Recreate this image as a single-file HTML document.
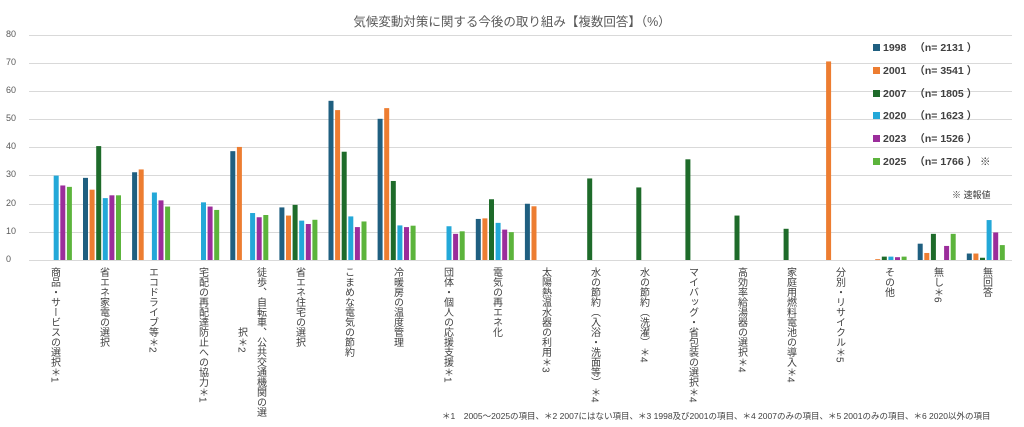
<!DOCTYPE html>
<html><head><meta charset="utf-8"><style>
body{margin:0;width:1024px;height:427px;background:#fff;overflow:hidden;position:relative;font-family:"Liberation Sans","Noto Sans CJK JP",sans-serif;color:#595959}
.t{position:absolute;white-space:nowrap}
.v{position:absolute;top:267px;writing-mode:vertical-rl;font-size:10px;line-height:11px;white-space:nowrap;color:#404040;transform:translateX(-50%)}
.y{position:absolute;left:6px;width:18px;text-align:left;font-size:9px;color:#595959}
.lg{position:absolute;left:873px;font-size:10.5px;font-weight:bold;color:#404040}
.lg i{display:inline-block;width:7px;height:7px;margin-right:3px}
.lg span{font-weight:bold;margin-left:8px}
</style></head><body>
<div class="t" style="left:0;width:1024px;text-align:center;top:11px;font-size:12.5px;color:#595959">気候変動対策に関する今後の取り組み【複数回答】（%）</div>
<svg width="1024" height="427" style="position:absolute;left:0;top:0">
<g stroke="#d9d9d9" stroke-width="1">
<line x1="29" x2="1012" y1="35.5" y2="35.5"/><line x1="29" x2="1012" y1="63.5" y2="63.5"/><line x1="29" x2="1012" y1="91.5" y2="91.5"/><line x1="29" x2="1012" y1="119.5" y2="119.5"/><line x1="29" x2="1012" y1="147.5" y2="147.5"/><line x1="29" x2="1012" y1="175.5" y2="175.5"/><line x1="29" x2="1012" y1="204.5" y2="204.5"/><line x1="29" x2="1012" y1="232.5" y2="232.5"/><line x1="29" x2="1012" y1="260.5" y2="260.5"/>
</g>
<g transform="translate(33.9,260) scale(1,-2.8125)"><rect x="19.8" width="5" height="30" fill="#23a8d8"/><rect x="26.4" width="5" height="26.5" fill="#9b2d9b"/><rect x="33" width="5" height="26" fill="#5cb43c"/></g>
<g transform="translate(83,260) scale(1,-2.8125)"><rect x="0" width="5" height="29.2" fill="#1f5f80"/><rect x="6.6" width="5" height="25" fill="#ed7d31"/><rect x="13.2" width="5" height="40.5" fill="#1e6b2a"/><rect x="19.8" width="5" height="22" fill="#23a8d8"/><rect x="26.4" width="5" height="23" fill="#9b2d9b"/><rect x="33" width="5" height="23" fill="#5cb43c"/></g>
<g transform="translate(132.1,260) scale(1,-2.8125)"><rect x="0" width="5" height="31.2" fill="#1f5f80"/><rect x="6.6" width="5" height="32.2" fill="#ed7d31"/><rect x="19.8" width="5" height="24" fill="#23a8d8"/><rect x="26.4" width="5" height="21.2" fill="#9b2d9b"/><rect x="33" width="5" height="19" fill="#5cb43c"/></g>
<g transform="translate(181.2,260) scale(1,-2.8125)"><rect x="19.8" width="5" height="20.5" fill="#23a8d8"/><rect x="26.4" width="5" height="19" fill="#9b2d9b"/><rect x="33" width="5" height="17.8" fill="#5cb43c"/></g>
<g transform="translate(230.3,260) scale(1,-2.8125)"><rect x="0" width="5" height="38.7" fill="#1f5f80"/><rect x="6.6" width="5" height="40.2" fill="#ed7d31"/><rect x="19.8" width="5" height="16.7" fill="#23a8d8"/><rect x="26.4" width="5" height="15.2" fill="#9b2d9b"/><rect x="33" width="5" height="16" fill="#5cb43c"/></g>
<g transform="translate(279.4,260) scale(1,-2.8125)"><rect x="0" width="5" height="18.7" fill="#1f5f80"/><rect x="6.6" width="5" height="15.8" fill="#ed7d31"/><rect x="13.2" width="5" height="19.6" fill="#1e6b2a"/><rect x="19.8" width="5" height="14" fill="#23a8d8"/><rect x="26.4" width="5" height="12.8" fill="#9b2d9b"/><rect x="33" width="5" height="14.3" fill="#5cb43c"/></g>
<g transform="translate(328.5,260) scale(1,-2.8125)"><rect x="0" width="5" height="56.6" fill="#1f5f80"/><rect x="6.6" width="5" height="53.3" fill="#ed7d31"/><rect x="13.2" width="5" height="38.5" fill="#1e6b2a"/><rect x="19.8" width="5" height="15.5" fill="#23a8d8"/><rect x="26.4" width="5" height="11.7" fill="#9b2d9b"/><rect x="33" width="5" height="13.7" fill="#5cb43c"/></g>
<g transform="translate(377.6,260) scale(1,-2.8125)"><rect x="0" width="5" height="50.2" fill="#1f5f80"/><rect x="6.6" width="5" height="54" fill="#ed7d31"/><rect x="13.2" width="5" height="28.1" fill="#1e6b2a"/><rect x="19.8" width="5" height="12.3" fill="#23a8d8"/><rect x="26.4" width="5" height="11.7" fill="#9b2d9b"/><rect x="33" width="5" height="12.2" fill="#5cb43c"/></g>
<g transform="translate(426.7,260) scale(1,-2.8125)"><rect x="19.8" width="5" height="12" fill="#23a8d8"/><rect x="26.4" width="5" height="9.3" fill="#9b2d9b"/><rect x="33" width="5" height="10.2" fill="#5cb43c"/></g>
<g transform="translate(475.8,260) scale(1,-2.8125)"><rect x="0" width="5" height="14.6" fill="#1f5f80"/><rect x="6.6" width="5" height="14.8" fill="#ed7d31"/><rect x="13.2" width="5" height="21.6" fill="#1e6b2a"/><rect x="19.8" width="5" height="13.2" fill="#23a8d8"/><rect x="26.4" width="5" height="10.8" fill="#9b2d9b"/><rect x="33" width="5" height="9.9" fill="#5cb43c"/></g>
<g transform="translate(524.9,260) scale(1,-2.8125)"><rect x="0" width="5" height="20" fill="#1f5f80"/><rect x="6.6" width="5" height="19.1" fill="#ed7d31"/></g>
<g transform="translate(574,260) scale(1,-2.8125)"><rect x="13.2" width="5" height="29" fill="#1e6b2a"/></g>
<g transform="translate(623.1,260) scale(1,-2.8125)"><rect x="13.2" width="5" height="25.8" fill="#1e6b2a"/></g>
<g transform="translate(672.2,260) scale(1,-2.8125)"><rect x="13.2" width="5" height="35.8" fill="#1e6b2a"/></g>
<g transform="translate(721.3,260) scale(1,-2.8125)"><rect x="13.2" width="5" height="15.8" fill="#1e6b2a"/></g>
<g transform="translate(770.4,260) scale(1,-2.8125)"><rect x="13.2" width="5" height="11.1" fill="#1e6b2a"/></g>
<g transform="translate(819.5,260) scale(1,-2.8125)"><rect x="6.6" width="5" height="70.6" fill="#ed7d31"/></g>
<g transform="translate(868.6,260) scale(1,-2.8125)"><rect x="6.6" width="5" height="0.3" fill="#ed7d31"/><rect x="13.2" width="5" height="1.2" fill="#1e6b2a"/><rect x="19.8" width="5" height="1.2" fill="#23a8d8"/><rect x="26.4" width="5" height="1" fill="#9b2d9b"/><rect x="33" width="5" height="1.2" fill="#5cb43c"/></g>
<g transform="translate(917.7,260) scale(1,-2.8125)"><rect x="0" width="5" height="5.8" fill="#1f5f80"/><rect x="6.6" width="5" height="2.5" fill="#ed7d31"/><rect x="13.2" width="5" height="9.3" fill="#1e6b2a"/><rect x="26.4" width="5" height="5" fill="#9b2d9b"/><rect x="33" width="5" height="9.3" fill="#5cb43c"/></g>
<g transform="translate(966.8,260) scale(1,-2.8125)"><rect x="0" width="5" height="2.3" fill="#1f5f80"/><rect x="6.6" width="5" height="2.3" fill="#ed7d31"/><rect x="13.2" width="5" height="0.8" fill="#1e6b2a"/><rect x="19.8" width="5" height="14.2" fill="#23a8d8"/><rect x="26.4" width="5" height="9.8" fill="#9b2d9b"/><rect x="33" width="5" height="5.3" fill="#5cb43c"/></g>
</svg>
<div class="y" style="top:29px">80</div><div class="y" style="top:57px">70</div><div class="y" style="top:85px">60</div><div class="y" style="top:113px">50</div><div class="y" style="top:141px">40</div><div class="y" style="top:169px">30</div><div class="y" style="top:198px">20</div><div class="y" style="top:226px">10</div><div class="y" style="top:254px">0</div>

<div class="lg" style="top:40px"><i style="background:#1f5f80"></i>1998<span>（n= 2131 ）</span></div>
<div class="lg" style="top:63px"><i style="background:#ed7d31"></i>2001<span>（n= 3541 ）</span></div>
<div class="lg" style="top:86px"><i style="background:#1e6b2a"></i>2007<span>（n= 1805 ）</span></div>
<div class="lg" style="top:108px"><i style="background:#23a8d8"></i>2020<span>（n= 1623 ）</span></div>
<div class="lg" style="top:131px"><i style="background:#9b2d9b"></i>2023<span>（n= 1526 ）</span></div>
<div class="lg" style="top:154px"><i style="background:#5cb43c"></i>2025<span>（n= 1766 ）</span> ※</div>
<div class="t" style="left:952px;top:188px;font-size:9px;color:#404040">※ 速報値</div>

<div class="v" style="left:54px">商品・サービスの選択＊1</div>
<div class="v" style="left:103px">省エネ家電の選択</div>
<div class="v" style="left:152px">エコドライブ等＊2</div>
<div class="v" style="left:202px">宅配の再配達防止への協力＊1</div>
<div class="v" style="left:260px">徒歩、自転車、公共交通機関の選</div>
<div class="v" style="left:241px;top:327px">択＊2</div>
<div class="v" style="left:299px">省エネ住宅の選択</div>
<div class="v" style="left:348px">こまめな電気の節約</div>
<div class="v" style="left:397px">冷暖房の温度管理</div>
<div class="v" style="left:447px">団体・個人の応援支援＊1</div>
<div class="v" style="left:496px">電気の再エネ化</div>
<div class="v" style="left:545px">太陽熱温水器の利用＊3</div>
<div class="v" style="left:594px">水の節約（入浴・洗面等）＊4</div>
<div class="v" style="left:643px">水の節約（洗濯）＊4</div>
<div class="v" style="left:692px">マイバッグ・省包装の選択＊4</div>
<div class="v" style="left:741px">高効率給湯器の選択＊4</div>
<div class="v" style="left:790px">家庭用燃料電池の導入＊4</div>
<div class="v" style="left:839px">分別・リサイクル＊5</div>
<div class="v" style="left:888px">その他</div>
<div class="v" style="left:937px">無し＊6</div>
<div class="v" style="left:986px">無回答</div>

<div class="t" style="left:442px;top:410px;font-size:8.5px;color:#404040">＊1　2005～2025の項目、＊2 2007にはない項目、＊3 1998及び2001の項目、＊4 2007のみの項目、＊5 2001のみの項目、＊6 2020以外の項目</div>
</body></html>
